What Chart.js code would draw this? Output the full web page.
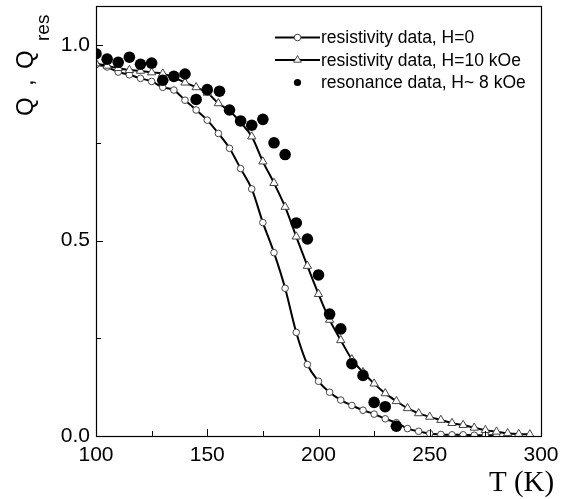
<!DOCTYPE html>
<html>
<head>
<meta charset="utf-8">
<script src="https://cdn.jsdelivr.net/npm/chart.js@4.4.1/dist/chart.umd.min.js"></script>
<style>
  html, body { margin: 0; padding: 0; background: #ffffff; }
  #c { display: block; }
</style>
</head>
<body>
<canvas id="c" width="561" height="499"></canvas>
<script>
// ---------- data ----------
const tempH0 = [100,105,110,115,120,125,130,135,140,145,150,155,160,165,170,175,180,185,190,195,200,205,210,215,220,225,230,235,240,245,250,255,260,265,270,275,280];
const qH0 = [0.950,0.944,0.931,0.924,0.915,0.907,0.892,0.885,0.859,0.834,0.808,0.774,0.736,0.684,0.632,0.546,0.469,0.378,0.265,0.183,0.140,0.112,0.092,0.078,0.066,0.056,0.044,0.034,0.019,0.012,0.006,0.004,0.003,0.003,0.002,0.002,0.002];

const tempH10 = [100,105,110,115,120,125,130,135,140,145,150,155,160,165,170,175,180,185,190,195,200,205,210,215,220,225,230,235,240,245,250,255,260,265,270,275,280,285,290,295];
const qH10 = [0.953,0.947,0.941,0.936,0.934,0.930,0.927,0.917,0.904,0.892,0.878,0.851,0.832,0.802,0.766,0.702,0.647,0.586,0.510,0.435,0.363,0.297,0.245,0.196,0.163,0.134,0.109,0.089,0.071,0.058,0.049,0.041,0.033,0.028,0.021,0.015,0.011,0.007,0.005,0.004];

const tempRes = [100,105,110,115,120,125,130,135,140,145,150,155.5,160,165,170,175,180,185,190,195,200,205,210,215,220,225,230,235];
const qRes = [0.978,0.964,0.956,0.969,0.951,0.954,0.910,0.920,0.926,0.861,0.886,0.882,0.834,0.806,0.795,0.810,0.750,0.720,0.545,0.504,0.412,0.312,0.274,0.185,0.155,0.086,0.075,0.025];

const seriesLabels = ['resistivity data, H=0', 'resistivity data, H=10 kOe', 'resonance data, H~ 8 kOe'];

const xTickValues = [100,150,200,250,300];
const xMinorTicks = [125,175,225,275];
const yTickValues = [0.0,0.5,1.0];
const yTickLabels = ['0.0','0.5','1.0'];
const yMinorTicks = [0.25,0.75];

const xTitle = 'T (K)';
const yTitleParts = ['Q', ',', 'Q', 'res'];

// ---------- helpers ----------
const toXY = (xs, ys) => xs.map((x, i) => ({ x: x, y: ys[i] }));

const frameAndDecor = {
  id: 'frameAndDecor',
  afterDraw(chart) {
    const ctx = chart.ctx;
    const a = chart.chartArea;
    const xs = chart.scales.x, ys = chart.scales.y;
    ctx.save();
    // frame
    ctx.strokeStyle = '#000';
    ctx.lineWidth = 1.2;
    ctx.strokeRect(Math.round(a.left) + 0.5, Math.round(a.top) + 0.5, Math.round(a.right - a.left), Math.round(a.bottom - a.top));
    // inward ticks
    ctx.lineWidth = 1;
    const major = 7, minor = 5;
    ctx.beginPath();
    xTickValues.forEach(v => { const p = Math.round(xs.getPixelForValue(v)) + 0.5; ctx.moveTo(p, a.bottom); ctx.lineTo(p, a.bottom - major); });
    xMinorTicks.forEach(v => { const p = Math.round(xs.getPixelForValue(v)) + 0.5; ctx.moveTo(p, a.bottom); ctx.lineTo(p, a.bottom - minor); });
    yTickValues.forEach(v => { const p = Math.round(ys.getPixelForValue(v)) + 0.5; ctx.moveTo(a.left, p); ctx.lineTo(a.left + major, p); });
    yMinorTicks.forEach(v => { const p = Math.round(ys.getPixelForValue(v)) + 0.5; ctx.moveTo(a.left, p); ctx.lineTo(a.left + minor, p); });
    ctx.stroke();

    // x title
    ctx.fillStyle = '#000';
    ctx.font = '29px "Liberation Serif", "Times New Roman", serif';
    ctx.textAlign = 'left';
    ctx.textBaseline = 'alphabetic';
    ctx.fillText(xTitle, 489, 491);

    // y title (rotated)
    ctx.save();
    ctx.translate(33, 0);
    ctx.rotate(-Math.PI / 2);
    ctx.font = '24px "Liberation Sans", Arial, sans-serif';
    ctx.fillText(yTitleParts[0], -116, 0);
    ctx.fillText(yTitleParts[1], -86, 0);
    ctx.fillText(yTitleParts[2], -69, 0);
    ctx.font = '19px "Liberation Sans", Arial, sans-serif';
    ctx.fillText(yTitleParts[3], -41, 16);
    ctx.restore();

    // legend
    const rows = [37.5, 60, 82.5];
    const ds = chart.data.datasets;
    ctx.font = '17.5px "Liberation Sans", Arial, sans-serif';
    ctx.textBaseline = 'middle';
    rows.forEach((ry, i) => {
      const d = ds[i];
      if (d.showLine !== false) {
        ctx.strokeStyle = '#000';
        ctx.lineWidth = 2;
        ctx.beginPath();
        ctx.moveTo(275, ry); ctx.lineTo(320, ry);
        ctx.stroke();
      }
      const r = i === 2 ? 3.6 : (i === 1 ? 4.4 : 3.3);
      ctx.save();
      ctx.fillStyle = d.pointBackgroundColor;
      ctx.strokeStyle = d.pointBorderColor;
      ctx.lineWidth = d.pointBorderWidth;
      Chart.helpers.drawPoint(ctx, { pointStyle: d.pointStyle, radius: r, rotation: 0, borderWidth: d.pointBorderWidth }, 297.5, ry);
      ctx.restore();
      ctx.fillStyle = '#000';
      ctx.fillText(seriesLabels[i], 321, ry + 1);
    });
    ctx.restore();
  }
};

const chart = new Chart(document.getElementById('c'), {
  type: 'line',
  data: {
    datasets: [
      {
        label: seriesLabels[0],
        data: toXY(tempH0, qH0),
        borderColor: '#000',
        borderWidth: 2,
        pointStyle: 'circle',
        pointRadius: 3.3,
        pointBackgroundColor: '#ffffff',
        pointBorderColor: '#444444',
        pointBorderWidth: 1,
        cubicInterpolationMode: 'monotone',
        order: 3
      },
      {
        label: seriesLabels[1],
        data: toXY(tempH10, qH10),
        borderColor: '#000',
        borderWidth: 2,
        pointStyle: 'triangle',
        pointRadius: 4.8,
        pointBackgroundColor: '#ffffff',
        pointBorderColor: '#444444',
        pointBorderWidth: 1,
        cubicInterpolationMode: 'monotone',
        order: 2
      },
      {
        label: seriesLabels[2],
        data: toXY(tempRes, qRes),
        showLine: false,
        borderColor: '#000',
        pointStyle: 'circle',
        pointRadius: 5.8,
        pointBackgroundColor: '#000000',
        pointBorderColor: '#000000',
        pointBorderWidth: 0,
        order: 1
      }
    ]
  },
  options: {
    responsive: false,
    animation: false,
    devicePixelRatio: 1,
    layout: { padding: { left: 0, right: 20, top: 6, bottom: 0 } },
    plugins: {
      legend: { display: false },
      tooltip: { enabled: false }
    },
    scales: {
      x: {
        type: 'linear',
        min: 100, max: 300,
        border: { display: false },
        grid: { display: false, drawTicks: false, tickLength: 0 },
        afterBuildTicks: s => { s.ticks = xTickValues.map(v => ({ value: v })); },
        afterFit: s => { s.height = 63; s.paddingLeft = 0; s.paddingRight = 0; },
        ticks: {
          padding: 7,
          maxRotation: 0,
          autoSkip: false,
          color: '#000',
          font: { family: '"Liberation Sans", Arial, sans-serif', size: 21 },
          callback: v => String(v)
        }
      },
      y: {
        type: 'linear',
        min: 0, max: 1.1,
        border: { display: false },
        grid: { display: false, drawTicks: false, tickLength: 0 },
        afterBuildTicks: s => { s.ticks = yTickValues.map(v => ({ value: v })); },
        afterFit: s => { s.width = 96; s.paddingTop = 0; s.paddingBottom = 0; },
        ticks: {
          padding: 6,
          autoSkip: false,
          color: '#000',
          font: { family: '"Liberation Sans", Arial, sans-serif', size: 21 },
          callback: v => yTickLabels[yTickValues.indexOf(v)]
        }
      }
    }
  },
  plugins: [frameAndDecor]
});
</script>
</body>
</html>
